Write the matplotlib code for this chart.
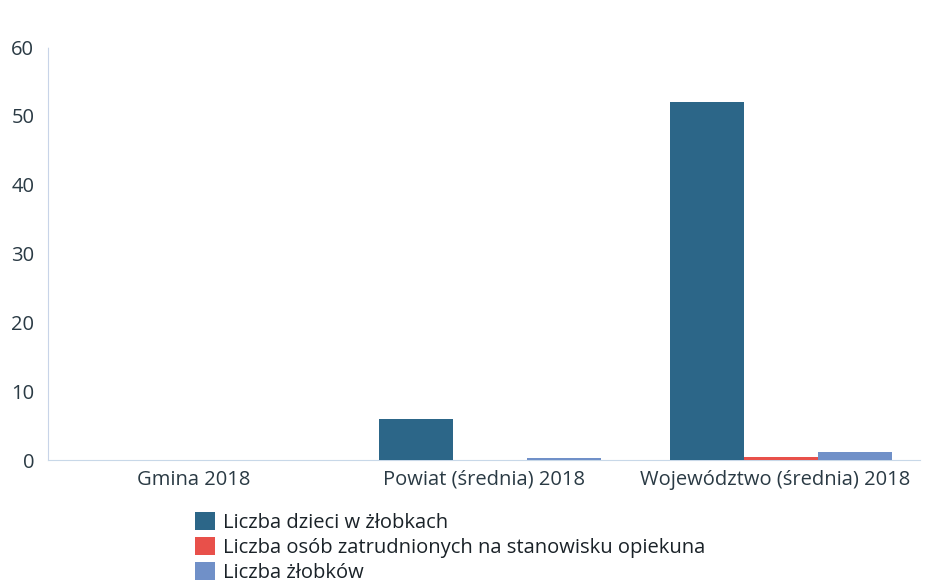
import matplotlib
matplotlib.use("Agg")
import matplotlib.pyplot as plt
import numpy as np
from matplotlib.patches import Patch

categories = ["Gmina 2018", "Powiat (średnia) 2018", "Województwo (średnia) 2018"]
series_names = ["Liczba dzieci w żłobkach",
                "Liczba osób zatrudnionych na stanowisku opiekuna",
                "Liczba żłobków"]
dzieci = [0, 6.0, 52.0]
opiekunowie = [0, 0.0, 0.5]
zlobki = [0, 0.3, 1.2]
colors = ["#2c6688", "#e8504a", "#7090c8"]
yticks = [0, 10, 20, 30, 40, 50, 60]

plt.rcParams['font.family'] = ['Open Sans', 'DejaVu Sans']
fig = plt.figure(figsize=(9.26, 5.84), dpi=100)
ax = fig.add_axes([0.052, 0.2123, 0.942, 0.7072])

x = np.arange(len(categories))
w = 0.255
for i, (vals, c) in enumerate(zip([dzieci, opiekunowie, zlobki], colors)):
    ax.bar(x + (i - 1) * w + 0.02, vals, width=w, color=c, edgecolor='none', zorder=3)

ax.set_xlim(-0.5, 2.5)
ax.set_ylim(0, 60)
ax.set_yticks(yticks)
ax.set_xticks(x)
ax.set_xticklabels(categories)
for s in ['top', 'right']:
    ax.spines[s].set_visible(False)
ax.spines['left'].set_color('#c8d4e8')
ax.spines['left'].set_linestyle((0, (1, 1)))
ax.spines['bottom'].set_color('#c8d8e8')
ax.tick_params(axis='both', length=0, labelsize=14.5, colors='#2a3a44')
ax.tick_params(axis='y', pad=10)
ax.tick_params(axis='x', pad=7)

handles = [Patch(facecolor=c, label=n) for c, n in zip(colors, series_names)]
leg = fig.legend(handles=handles, loc='upper left', bbox_to_anchor=(195 / 926, 1 - 512 / 584),
                 frameon=False, handlelength=1.0, handleheight=1.0,
                 handletextpad=0.4, labelspacing=0.2, borderaxespad=0, borderpad=0,
                 prop={'family': ['Open Sans', 'DejaVu Sans'], 'size': 14.5})
for t in leg.get_texts():
    t.set_color('#1a2228')
fig.savefig("out.png", dpi=100, facecolor='white')
